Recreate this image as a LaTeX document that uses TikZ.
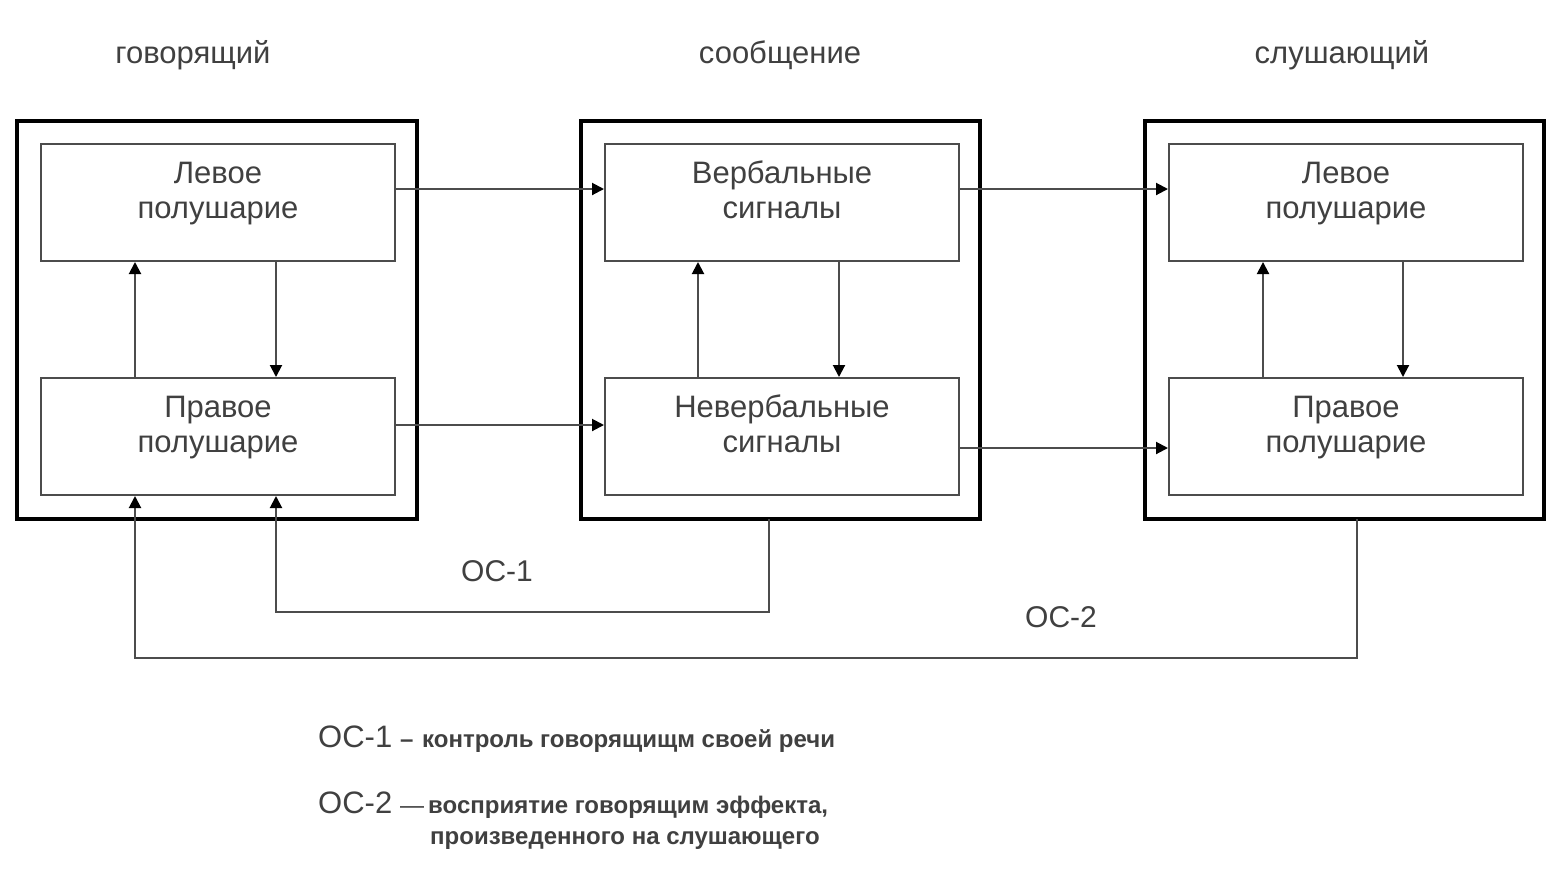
\documentclass[tikz,border=0pt]{standalone}
\usepackage{fontspec}
\setmainfont{Liberation Sans}
\usetikzlibrary{arrows.meta}
\newcommand{\twoline}[2]{\raisebox{2pt}[0pt][0pt]{\begin{tabular}{@{}c@{}}#1\\#2\end{tabular}}}
\begin{document}
\begin{tikzpicture}[x=1pt,y=-1pt,
  outerbox/.style={draw=black,line width=3.5pt},
  innerbox/.style={draw=black!70,line width=2pt,minimum width=354pt,minimum height=117pt,anchor=north west,inner sep=0pt,align=center,font=\fontsize{31}{35}\selectfont,text=black!75},
  conn/.style={draw=black!70,line width=2pt,-{Triangle[length=12pt,width=12pt,color=black]}},
  title/.style={font=\fontsize{31}{35}\selectfont,text=black!75},
  lbl/.style={font=\fontsize{30}{34}\selectfont,text=black!75},
  big/.style={anchor=base west,inner sep=0pt,font=\fontsize{31}{34}\selectfont,text=black!75},
  legend/.style={font=\fontsize{24}{26}\selectfont\bfseries,text=black!75,anchor=base west,inner sep=0pt}
]
\useasboundingbox (0,0) rectangle (1562,892);
\fill[white] (0,0) rectangle (1562,892);
% titles
\node[title] (t1) at (193,55) {говорящий};
\node[title] (t2) at (780,55) {сообщение};
\node[title] (t3) at (1342,55) {слушающий};
% outer boxes
\draw[outerbox] (17,121) rectangle (417,519);
\draw[outerbox] (581,121) rectangle (980,519);
\draw[outerbox] (1145,121) rectangle (1544,519);
\coordinate (o2b) at (769,519);
\coordinate (o3b) at (1357,519);
% inner boxes
\node[innerbox] (a1) at (40,143) {\twoline{Левое}{полушарие}};
\node[innerbox] (a2) at (40,377) {\twoline{Правое}{полушарие}};
\node[innerbox] (b1) at (604,143) {\twoline{Вербальные}{сигналы}};
\node[innerbox] (b2) at (604,377) {\twoline{Невербальные}{сигналы}};
\node[innerbox] (c1) at (1168,143) {\twoline{Левое}{полушарие}};
\node[innerbox] (c2) at (1168,377) {\twoline{Правое}{полушарие}};
% vertical arrows
\draw[conn] (a2.south west |- a2.north) ++(95,0) coordinate (a2u) -- (a2u |- a1.south);
\draw[conn] (a1.south west) ++(236,0) coordinate (a1d) -- (a1d |- a2.north);
\draw[conn] (b2.south west |- b2.north) ++(94,0) coordinate (b2u) -- (b2u |- b1.south);
\draw[conn] (b1.south west) ++(235,0) coordinate (b1d) -- (b1d |- b2.north);
\draw[conn] (c2.south west |- c2.north) ++(95,0) coordinate (c2u) -- (c2u |- c1.south);
\draw[conn] (c1.south west) ++(235,0) coordinate (c1d) -- (c1d |- c2.north);
% horizontal arrows
\draw[conn] (a1.east |- 0,189) -- (b1.west |- 0,189);
\draw[conn] (a2.east |- 0,425) -- (b2.west |- 0,425);
\draw[conn] (b1.east |- 0,189) -- (c1.west |- 0,189);
\draw[conn] (b2.east |- 0,448) -- (c2.west |- 0,448);
% feedback loops
\draw[conn] (o2b) -- (769,612) -- (a1d |- 0,612) -- (a1d |- a2.south);
\draw[conn] (o3b) -- (1357,658) -- (a2u |- 0,658) -- (a2u |- a2.south);
\node[lbl] (oc1) at (497,571) {ОС-1};
\node[lbl] (oc2) at (1061,617) {ОС-2};
% legend
\node[big] (l1) at (318,747) {ОС-1};
\node[legend] (l1d) at (400,747) {–};
\node[legend] (l1t) at (422,747) {контроль говорящищм своей речи};
\node[big] (l2) at (318,813) {ОС-2};
\node[legend,font=\fontsize{24}{26}\selectfont] (l2d) at (400,813) {—};
\node[legend] (l2t) at (428,813) {восприятие говорящим эффекта,};
\node[legend] (l3t) at (430,844) {произведенного на слушающего};
\end{tikzpicture}
\end{document}
